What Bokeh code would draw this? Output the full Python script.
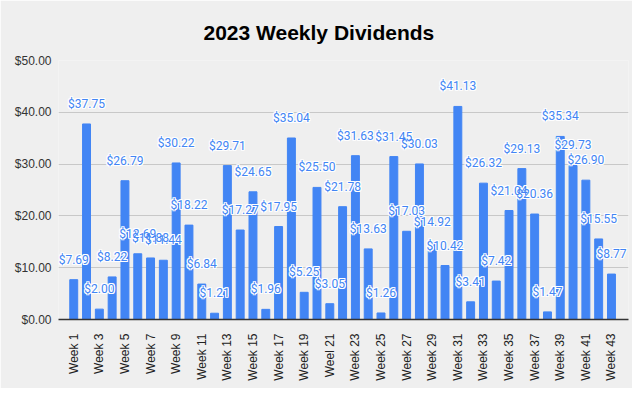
from bokeh.plotting import figure
from bokeh.models import Range1d, FixedTicker, NumeralTickFormatter, ColumnDataSource
from bokeh.embed import file_html
from bokeh.resources import INLINE
from bokeh.core.properties import value
import math

weeks = list(range(1, 44))
dividends = [7.69, 37.75, 2.00, 8.22, 26.79, 12.69, 11.88, 11.44, 30.22, 18.22,
             6.84, 1.21, 29.71, 17.27, 24.65, 1.96, 17.95, 35.04, 5.25, 25.50,
             3.05, 21.78, 31.63, 13.63, 1.26, 31.45, 17.03, 30.03, 14.92, 10.42,
             41.13, 3.41, 26.32, 7.42, 21.04, 29.13, 20.36, 1.47, 35.34, 29.73,
             26.90, 15.55, 8.77]
week_labels = ["Week %d" % w for w in weeks]
week_labels[20] = "Weel 21"
shown_ticks = list(range(1, 44, 2))
y_ticks = [0, 10, 20, 30, 40, 50]

BG = "#efefef"
BLUE = "#4285f4"

src = ColumnDataSource(dict(
    x=weeks, top=dividends,
    label=["$%.2f" % v for v in dividends],
))

p = figure(width=632, height=388, output_backend="svg", toolbar_location=None,
           x_range=Range1d(-0.19, 44.33), y_range=Range1d(0, 50),
           min_border_left=58, min_border_right=4, min_border_top=60,
           min_border_bottom=69,
           background_fill_color=BG, border_fill_color=BG, outline_line_color=None)

p.title.text = "2023 Weekly Dividends"
p.title.align = "left"
p.title.offset = 145
p.title.text_font = "Liberation Sans"
p.title.text_font_size = "21px"
p.title.text_font_style = "bold"
p.title.text_color = "#000000"
p.title.standoff = 33

p.vbar(x="x", top="top", width=0.62, source=src, color=BLUE)

# haloed data labels
for dx, dy in [(-1, 0), (1, 0), (0, -1), (0, 1), (-1, -1), (1, 1), (-1, 1), (1, -1)]:
    p.text(x="x", y="top", text="label", source=src, text_align="center",
           text_baseline="middle", x_offset=dx, y_offset=-20 + dy,
           text_font=value("Roboto"), text_font_size="12px", text_color="white")
p.text(x="x", y="top", text="label", source=src, text_align="center",
       text_baseline="middle", y_offset=-20,
       text_font=value("Roboto"), text_font_size="12px", text_color=BLUE)

p.xgrid.grid_line_color = None
p.ygrid.grid_line_color = "#c8c8c8"
p.ygrid.ticker = FixedTicker(ticks=y_ticks)

xa = p.xaxis[0]
xa.ticker = FixedTicker(ticks=shown_ticks)
xa.major_label_overrides = {w: week_labels[w - 1] for w in shown_ticks}
xa.major_label_orientation = math.pi / 2
xa.major_tick_line_color = None
xa.minor_tick_line_color = None
xa.axis_line_color = "#333333"
xa.axis_line_width = 1.5
xa.major_label_text_font = "Liberation Sans"
xa.major_label_text_font_size = "12px"
xa.major_label_text_color = "#222222"
xa.major_label_standoff = 8

ya = p.yaxis[0]
ya.ticker = FixedTicker(ticks=y_ticks)
ya.formatter = NumeralTickFormatter(format="$0.00")
ya.axis_line_color = None
ya.major_tick_line_color = None
ya.minor_tick_line_color = None
ya.major_label_text_font = "Liberation Sans"
ya.major_label_text_font_size = "12px"
ya.major_label_text_color = "#333333"
ya.major_label_standoff = 1

open("out.html", "w").write(file_html(p, INLINE))
